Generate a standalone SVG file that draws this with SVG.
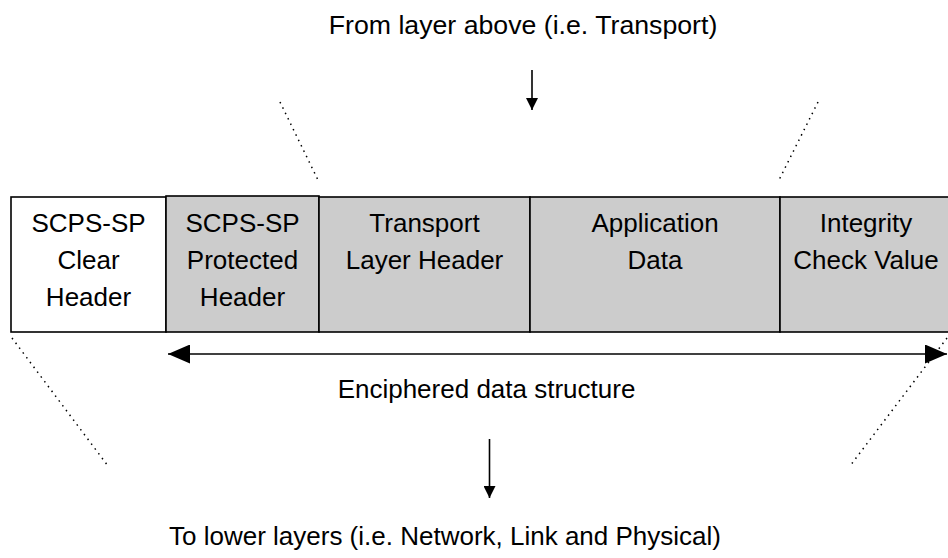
<svg xmlns="http://www.w3.org/2000/svg" width="948" height="558" viewBox="0 0 948 558">
<defs>
<style>
text{font-family:"Liberation Sans",Arial,sans-serif;font-size:26px;fill:#000;text-anchor:middle}
.box{stroke:#000;stroke-width:1.6}
.clear{fill:#fff}
.prot{fill:#cccccc}
.dot{stroke:#000;stroke-width:1.5;stroke-dasharray:1.5 4.5;fill:none}
.ln{stroke:#000;stroke-width:1.6;fill:none}
</style>
<marker id="ah" viewBox="0 0 12 12" markerWidth="12" markerHeight="12" refX="12" refY="6" orient="auto" markerUnits="userSpaceOnUse">
<path d="M0,0 L12,6 L0,12 Z" fill="#000"/>
</marker>
<marker id="big" viewBox="0 0 22 19" markerWidth="22" markerHeight="19" refX="22" refY="9.5" orient="auto-start-reverse" markerUnits="userSpaceOnUse">
<path d="M0,0 L22,9.5 L0,19 Z" fill="#000"/>
</marker>
</defs>
<rect width="948" height="558" fill="#fff"/>
<text x="523" y="34" style="font-size:26.7px">From layer above (i.e. Transport)</text>
<g id="dotted">
<line class="dot" x1="280" y1="102" x2="318" y2="180"/>
<line class="dot" x1="818" y1="102" x2="779" y2="180"/>
<line class="dot" x1="12" y1="338" x2="108" y2="466"/>
<line class="dot" x1="947" y1="338" x2="850" y2="466"/>
</g>
<g id="clear-header">
<rect class="box clear" x="11" y="197" width="155" height="135"/>
<text x="88.5" y="232">SCPS-SP</text>
<text x="88.5" y="269">Clear</text>
<text x="88.5" y="306">Header</text>
</g>
<g id="protected-header">
<rect class="box prot" x="166" y="196" width="153" height="136"/>
<text x="242.5" y="232">SCPS-SP</text>
<text x="242.5" y="269">Protected</text>
<text x="242.5" y="306">Header</text>
</g>
<g id="transport-header">
<rect class="box prot" x="319" y="197" width="211" height="135"/>
<text x="424.5" y="232">Transport</text>
<text x="424.5" y="269">Layer Header</text>
</g>
<g id="application-data">
<rect class="box prot" x="530" y="197" width="250" height="135"/>
<text x="655" y="232">Application</text>
<text x="655" y="269">Data</text>
</g>
<g id="icv">
<rect class="box prot" x="780" y="197" width="180" height="135"/>
<text x="866" y="232">Integrity</text>
<text x="866" y="269">Check Value</text>
</g>
<g id="connectors">
<line class="ln" x1="532" y1="70" x2="532" y2="110" marker-end="url(#ah)"/>
<line class="ln" x1="168" y1="354" x2="947" y2="354" marker-start="url(#big)" marker-end="url(#big)"/>
<line class="ln" x1="489.5" y1="439" x2="489.5" y2="498" marker-end="url(#ah)"/>
</g>
<text x="486.5" y="398">Enciphered data structure</text>
<text x="445" y="545">To lower layers (i.e. Network, Link and Physical)</text>
</svg>
